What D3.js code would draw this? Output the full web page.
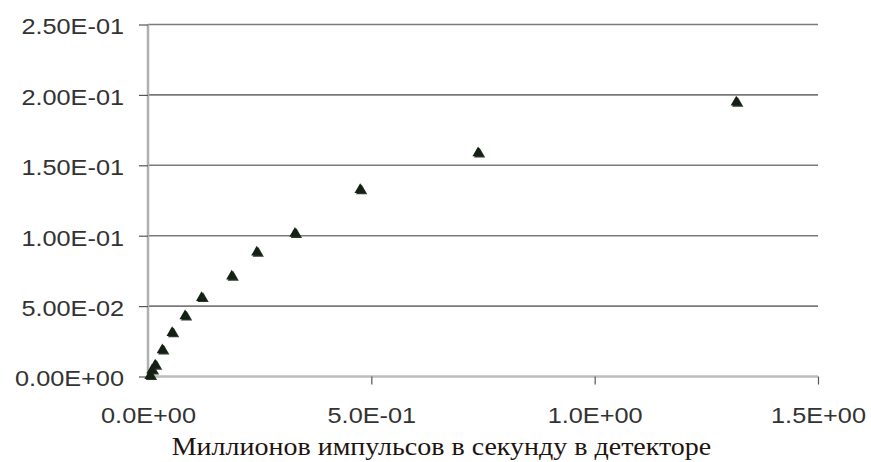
<!DOCTYPE html>
<html>
<head>
<meta charset="utf-8">
<script src="https://cdn.jsdelivr.net/npm/d3@7"></script>
<style>
  html, body { margin: 0; padding: 0; background: #fff; }
  svg { display: block; }
</style>
</head>
<body>
<svg id="chart" width="871" height="462"></svg>
<script>
// Data
const xValues = [0.0045, 0.009, 0.016, 0.032, 0.054, 0.083, 0.120, 0.1875, 0.2435, 0.329, 0.475, 0.739, 1.317];
const yValues = [0.0006, 0.0045, 0.008, 0.0188, 0.031, 0.043, 0.056, 0.0712, 0.0882, 0.1015, 0.1326, 0.1587, 0.1947];
const xTicks = [0, 0.5, 1.0, 1.5];
const yTicks = [0, 0.05, 0.10, 0.15, 0.20, 0.25];
const xTickLabels = ["0.0E+00", "5.0E-01", "1.0E+00", "1.5E+00"];
const yTickLabels = ["0.00E+00", "5.00E-02", "1.00E-01", "1.50E-01", "2.00E-01", "2.50E-01"];
const xTitle = "Миллионов импульсов в секунду в детекторе";

const svg = d3.select("#chart");
const mLeft = 148, mRight = 818, mTop = 24.5, mBottom = 376.5;
const stretch = 1.15; // reference text is horizontally stretched

const x = d3.scaleLinear().domain([0, 1.5]).range([mLeft, mRight]);
const y = d3.scaleLinear().domain([0, 0.25]).range([mBottom, mTop]);

// gridlines
svg.append("g").selectAll("line")
  .data(yTicks.slice(1))
  .join("line")
  .attr("x1", mLeft).attr("x2", mRight)
  .attr("y1", d => y(d)).attr("y2", d => y(d))
  .attr("stroke", "#7a7a7a").attr("stroke-width", 1.6);

// y axis
const yAxis = d3.axisLeft(y).tickValues(yTicks)
  .tickFormat((d, i) => yTickLabels[i]).tickSize(9).tickPadding(15);
const gy = svg.append("g").attr("transform", `translate(${mLeft},0)`).call(yAxis);
gy.select(".domain").attr("stroke", "#b0b0b0").attr("stroke-width", 2.5)
  .attr("d", `M0,${mTop}V${mBottom}`);
gy.selectAll(".tick line").attr("stroke", "#555").attr("stroke-width", 1.2);
gy.selectAll(".tick text").attr("fill", "#333")
  .attr("x", 0).attr("dy", "0.43em")
  .attr("transform", `translate(-24,0) scale(${stretch},1)`)
  .style("font-family", "'Liberation Sans', Arial, sans-serif").style("font-size", "22px");

// x axis
const xAxis = d3.axisBottom(x).tickValues(xTicks)
  .tickFormat((d, i) => xTickLabels[i]).tickSize(8).tickPadding(23);
const gx = svg.append("g").attr("transform", `translate(0,${mBottom})`).call(xAxis);
gx.select(".domain").attr("stroke", "#bdbdbd").attr("stroke-width", 2.5)
  .attr("d", `M${mLeft},0H${mRight}`);
gx.selectAll(".tick line").attr("stroke", "#555").attr("stroke-width", 1.2);
gx.selectAll(".tick").filter(d => d === 0).select("line").remove();
gx.selectAll(".tick text").attr("fill", "#333")
  .attr("transform", `scale(${stretch},1)`)
  .style("font-family", "'Liberation Sans', Arial, sans-serif").style("font-size", "22px");

// x title
svg.append("text")
  .attr("transform", `translate(441.5,455) scale(1.12,1)`)
  .attr("text-anchor", "middle")
  .attr("fill", "#1e1410")
  .style("font-family", "'Liberation Serif', 'Times New Roman', serif")
  .style("font-size", "25px")
  .text(xTitle);

// markers
const pts = xValues.map((v, i) => [v, yValues[i]]);
const tri = d3.symbol().type(d3.symbolTriangle).size(55);
svg.append("g").selectAll("path.shadow")
  .data(pts).join("path")
  .attr("class", "shadow")
  .attr("d", tri)
  .attr("transform", d => `translate(${x(d[0]) + 1.5},${y(d[1]) + 1.2})`)
  .attr("fill", "#2c3a2c");
svg.append("g").selectAll("path.pt")
  .data(pts).join("path")
  .attr("class", "pt")
  .attr("d", tri)
  .attr("transform", d => `translate(${x(d[0])},${y(d[1])})`)
  .attr("fill", "#142014");
</script>
</body>
</html>
